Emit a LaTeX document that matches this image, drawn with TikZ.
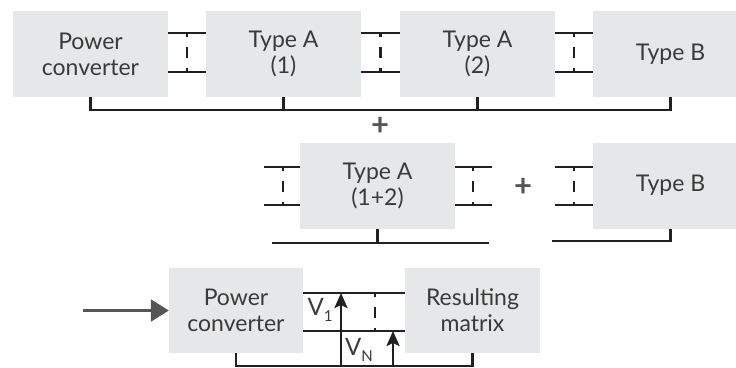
\documentclass[tikz,border=0pt]{standalone}
\usepackage{fontspec}
\setmainfont{Lato}
\usetikzlibrary{arrows.meta}
\definecolor{boxgray}{HTML}{E6E7E8}
\definecolor{txt}{HTML}{3A3A3A}
\definecolor{ln}{HTML}{231F20}
\definecolor{plusgray}{HTML}{555555}
\begin{document}
\begin{tikzpicture}[x=1pt,y=-1pt,
  box/.style={fill=boxgray, minimum width=155pt, minimum height=86pt, inner sep=0pt,
    font=\fontsize{23}{26}\selectfont, text=txt, align=center},
  wire/.style={draw=ln, line width=2.5pt},
  dsh/.style={draw=ln, line width=2.7pt, dash pattern=on 11pt off 10pt, dash phase=7pt},
  plus/.style={text=plusgray, font=\fontsize{31}{31}\selectfont\bfseries, inner sep=0pt},
  lbl/.style={text=txt, font=\fontsize{24}{26}\selectfont, inner sep=0pt},
  varrow/.style={wire, -{Stealth[length=15pt,width=13pt,inset=3pt]}},
  inarrow/.style={draw=plusgray, line width=2.5pt, -{Triangle[length=18pt,width=22pt]}}]
\useasboundingbox (0,0) rectangle (736,367);
\clip (0,0) rectangle (736,367);
% ---------- row 1
\node[box] (pc1) at (90.5,54) {Power\\converter};
\node[box] (ta1) at (283.5,54) {Type A\\(1)};
\node[box] (ta2) at (477.5,54) {Type A\\(2)};
\node[box] (tb1) at (670.5,54) {Type B};
\foreach \a/\b/\m in {pc1/ta1/187, ta1/ta2/380.5, ta2/tb1/574}{
  \draw[wire] (\a.east |- 0,33) -- (\b.west |- 0,33);
  \draw[wire] (\a.east |- 0,72) -- (\b.west |- 0,72);
  \draw[dsh] (\m,33) -- (\m,72);
}
\draw[wire] (pc1.south) -- (pc1.south |- 0,110) -| (tb1.south);
\draw[wire] (ta1.south) -- (ta1.south |- 0,110);
\draw[wire] (ta2.south) -- (ta2.south |- 0,110);
\node[plus] (p1) at (380,126) {+};
% ---------- row 2
\node[box] (ta12) at (377.5,185.5) {Type A\\(1+2)};
\node[box] (tb2) at (670.5,185.5) {Type B};
\coordinate (l1) at (264,167); \coordinate (l2) at (264,205);
\coordinate (r1) at (492,167); \coordinate (r2) at (492,205);
\coordinate (s1) at (555,167); \coordinate (s2) at (555,205);
\draw[wire] (l1) -- (ta12.west |- l1);
\draw[wire] (l2) -- (ta12.west |- l2);
\draw[dsh] (283,167) -- (283,205);
\draw[wire] (ta12.east |- r1) -- (r1);
\draw[wire] (ta12.east |- r2) -- (r2);
\draw[dsh] (473,167) -- (473,205);
\draw[wire] (s1) -- (tb2.west |- s1);
\draw[wire] (s2) -- (tb2.west |- s2);
\draw[dsh] (574,167) -- (574,205);
\node[plus] (p2) at (523,187) {+};
\coordinate (b1) at (272,243); \coordinate (b2) at (489,243);
\draw[wire] (b1) -- (b2);
\draw[wire] (ta12.south) -- (ta12.south |- b1);
\coordinate (c1) at (552,241);
\draw[wire] (c1) -| (tb2.south);
% ---------- row 3
\node[box, minimum width=134pt, minimum height=85pt] (pc3) at (236,310.5) {Power\\converter};
\node[box, minimum width=135pt, minimum height=85pt] (rm) at (472.5,310.5) {Resulting\\matrix};
\draw[wire] (pc3.east |- 0,293) -- (rm.west |- 0,293);
\draw[wire] (pc3.east |- 0,331) -- (rm.west |- 0,331);
\draw[dsh] (375,293) -- (375,331);
\draw[wire] (pc3.south) -- (pc3.south |- 0,366) -| (rm.south);
\coordinate (v1a) at (341,366); \coordinate (v1b) at (341,293);
\coordinate (vna) at (393,366); \coordinate (vnb) at (393,331);
\draw[varrow] (v1a) -- (v1b);
\draw[varrow] (vna) -- (vnb);
\node[lbl] (v1) at (320,310) {V\raisebox{-0.45ex}{\fontsize{15}{15}\selectfont 1}};
\node[lbl] (vn) at (359,350) {V\raisebox{-0.45ex}{\fontsize{15}{15}\selectfont N}};
\coordinate (in) at (83,310.5);
\draw[inarrow] (in) -- (pc3.west);
\end{tikzpicture}
\end{document}
